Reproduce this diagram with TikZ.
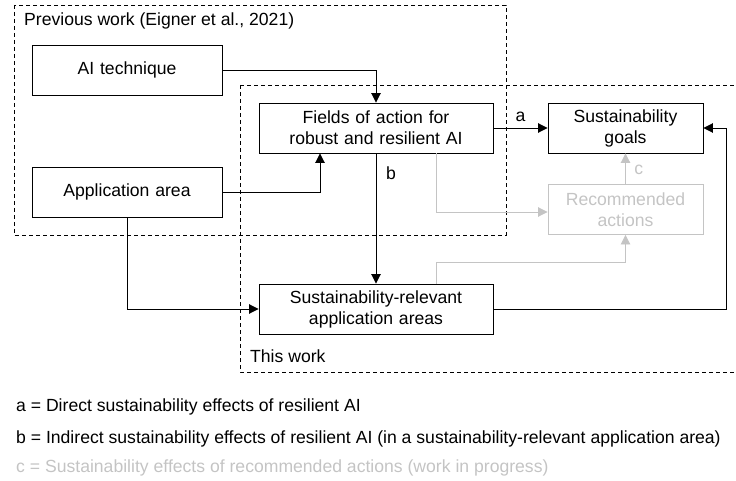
\documentclass[tikz,border=0pt]{standalone}
\usepackage{fontspec}
\setmainfont{Liberation Sans}
\usetikzlibrary{arrows.meta}
\definecolor{lgray}{HTML}{C4C4C4}
\begin{document}
\begin{tikzpicture}[x=1pt,y=-1pt,
  every node/.style={font=\fontsize{17.6}{21}\selectfont},
  box/.style={draw,line width=0.9pt,minimum width=#1,minimum height=50pt,inner sep=0pt,align=center,text width=#1},
  box/.default=190pt,
  gbox/.style={box=155pt,draw=lgray,text=lgray},
  frame/.style={draw,dashed,line width=0.8pt,dash pattern=on 4pt off 3pt},
  conn/.style={line width=0.9pt,-{Triangle[length=9.5pt,width=9.5pt]}},
  gconn/.style={conn,draw=lgray,color=lgray},
  lbl/.style={anchor=west,inner sep=0pt}]
\useasboundingbox (0,0) rectangle (736,481);
% frames
\draw[frame] (14,5) rectangle (506,235);
\draw[frame] (240,85) -- (740,85);
\draw[frame] (240,85) -- (240,372) -- (740,372);
\node[lbl] (prev) at (24,21) {Previous work (Eigner et al., 2021)};
\node[lbl] (this) at (250,356) {This work};
% boxes
\node[box] (ai) at (127,70) {AI technique};
\node[box] (app) at (127,192) {Application area};
\node[box=234pt] (fields) at (376,128) {Fields of action for\\robust and resilient AI};
\node[box=155pt] (goals) at (625.5,128) {Sustainability\\goals};
\node[gbox] (rec) at (625.5,209.5) {Recommended\\actions};
\node[box=234pt] (srel) at (376,309) {Sustainability-relevant\\application areas};
% connectors
\coordinate (c1) at (376,70);
\draw[conn] (ai.east) -- (c1) -- (fields.north);
\coordinate (c2) at (320,192);
\draw[conn] (app.east) -- (c2) -- (c2 |- fields.south);
\draw[conn] (fields.east) -- node[above=3pt,pos=0.5] (la) {a} (goals.west);
\draw[conn] (fields.south) -- (srel.north);
\node (lb) at (391,173) {b};
\coordinate (c3) at (127,309);
\draw[conn] (app.south) -- (c3) -- (srel.west);
\coordinate (c4) at (726,309);
\coordinate (c5) at (726,128);
\draw[conn] (srel.east) -- (c4) -- (c5) -- (goals.east);
\coordinate (g1) at (436,153);
\coordinate (g2) at (436,212);
\draw[gconn] (g1) -- (g2) -- (g2 -| rec.west);
\coordinate (g3) at (436,284);
\coordinate (g4) at (436,262);
\coordinate (g5) at (625.5,262);
\draw[gconn] (g3) -- (g4) -- (g5) -- (rec.south);
\draw[gconn] (rec.north) -- node[right=5pt,text=lgray,pos=0.45] (lc) {c} (goals.south);
% legend
\node[lbl] (la2) at (16,407) {a = Direct sustainability effects of resilient AI};
\node[lbl] (lb2) at (16,439) {b = Indirect sustainability effects of resilient AI (in a sustainability-relevant application area)};
\node[lbl,text=lgray] (lc2) at (16,468) {c = Sustainability effects of recommended actions (work in progress)};
\end{tikzpicture}
\end{document}
